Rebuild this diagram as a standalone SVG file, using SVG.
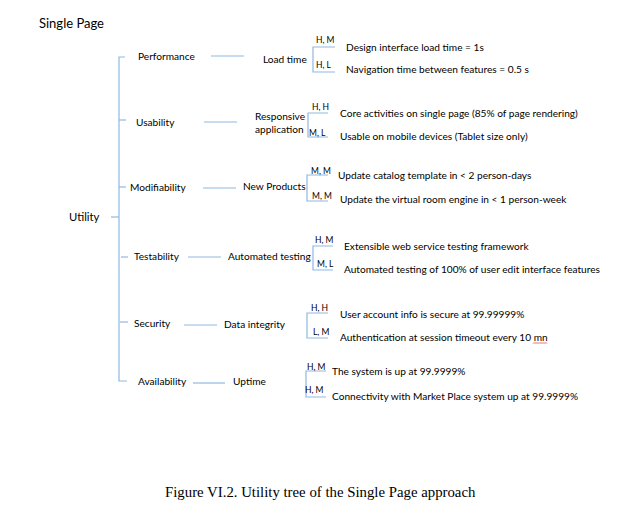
<svg xmlns="http://www.w3.org/2000/svg" width="640" height="512" viewBox="0 0 640 512">
  <style>
    text { font-family: Lato, "Liberation Sans", sans-serif; fill: #000; }
    .title { font-size: 13px; }
    .root { font-size: 11.3px; }
    .lbl { font-size: 10.15px; }
    .rate { font-size: 8.5px; }
    .cap { font-family: "Liberation Serif", serif; font-size: 14.8px; }
    .ln { fill: none; stroke: #8fb8e3; stroke-width: 1.2; }
  </style>
  <rect width="640" height="512" fill="#fff"/>

  <text class="title" x="39" y="28">Single Page</text>

  <!-- connectors -->
  <g id="connectors" class="ln">
    <path d="M125,57 H119 V381 H127"/>
    <path d="M119,120 H126"/>
    <path d="M119,187 H126"/>
    <path d="M111,217 H119"/>
    <path d="M121,257 H128"/>
    <path d="M120,322 H128"/>
    <path d="M211,56 H244"/>
    <path d="M204,122 H237"/>
    <path d="M203,188 H236"/>
    <path d="M188,257 H221"/>
    <path d="M184,325 H217"/>
    <path d="M193,383 H225"/>
    <path d="M335,47 H313 V72 H335"/>
    <path d="M328,113 H308 V137 H328"/>
    <path d="M328,175 H307 V201 H328"/>
    <path d="M333,246 H313 V270 H333"/>
    <path d="M328,313 H307 V338 H328"/>
    <path d="M326,371 H306 V397 H326"/>
  </g>

  <g id="utility"><text class="root" x="69" y="221">Utility</text></g>

  <g id="performance">
    <text class="lbl" x="138" y="60">Performance</text>
    <text class="lbl" x="263" y="63">Load time</text>
    <text class="rate" x="316" y="43">H, M</text>
    <text class="rate" x="316" y="68">H, L</text>
    <text class="lbl" x="346" y="51">Design interface load time = 1s</text>
    <text class="lbl" x="346" y="73">Navigation time between features = 0.5 s</text>
  </g>

  <g id="usability">
    <text class="lbl" x="136" y="126">Usability</text>
    <text class="lbl" x="255" y="120">Responsive</text>
    <text class="lbl" x="255" y="133">application</text>
    <text class="rate" x="312" y="110">H, H</text>
    <text class="rate" x="309" y="136">M, L</text>
    <text class="lbl" x="340" y="117">Core activities on single page (85% of page rendering)</text>
    <text class="lbl" x="340" y="140">Usable on mobile devices (Tablet size only)</text>
  </g>

  <g id="modifiability">
    <text class="lbl" x="130" y="191">Modifiability</text>
    <text class="lbl" x="243" y="190">New Products</text>
    <text class="rate" x="311" y="174">M, M</text>
    <text class="rate" x="312" y="199">M, M</text>
    <text class="lbl" x="338" y="179">Update catalog template in &lt; 2 person-days</text>
    <text class="lbl" x="340" y="203">Update the virtual room engine in &lt; 1 person-week</text>
  </g>

  <g id="testability">
    <text class="lbl" x="134" y="260">Testability</text>
    <text class="lbl" x="228" y="260">Automated testing</text>
    <text class="rate" x="315" y="243">H, M</text>
    <text class="rate" x="317" y="267">M, L</text>
    <text class="lbl" x="344" y="250">Extensible web service testing framework</text>
    <text class="lbl" x="344" y="273">Automated testing of 100% of user edit interface features</text>
  </g>

  <g id="security">
    <text class="lbl" x="134" y="327">Security</text>
    <text class="lbl" x="224" y="328">Data integrity</text>
    <text class="rate" x="311" y="311">H, H</text>
    <text class="rate" x="313" y="335">L, M</text>
    <text class="lbl" x="340" y="318">User account info is secure at 99.99999%</text>
    <text class="lbl" x="340" y="341">Authentication at session timeout every 10 mn</text>
    <!-- spell-check squiggle under "mn" -->
    <path d="M533,343.5 l1,-1 l1,1 l1,-1 l1,1 l1,-1 l1,1 l1,-1 l1,1 l1,-1 l1,1 l1,-1 l1,1 l1,-1 l1,1" fill="none" stroke="#e04040" stroke-width="0.8"/>
  </g>

  <g id="availability">
    <text class="lbl" x="138" y="385">Availability</text>
    <text class="lbl" x="233" y="385">Uptime</text>
    <text class="rate" x="307" y="370">H, M</text>
    <text class="rate" x="305" y="393">H, M</text>
    <text class="lbl" x="332" y="375">The system is up at 99.9999%</text>
    <text class="lbl" x="332" y="400">Connectivity with Market Place system up at 99.9999%</text>
  </g>

  <text class="cap" x="165" y="497">Figure VI.2. Utility tree of the Single Page approach</text>
</svg>
